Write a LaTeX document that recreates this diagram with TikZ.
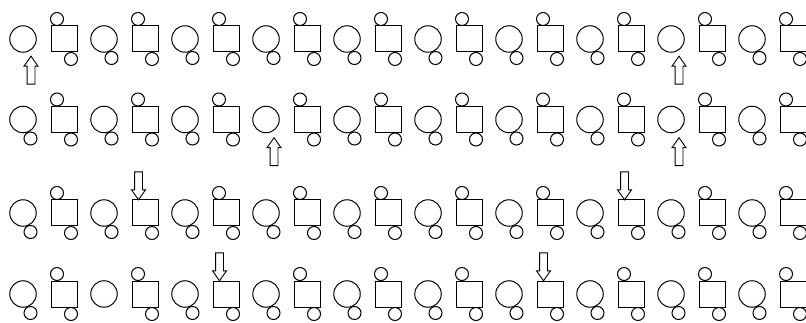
\documentclass[tikz,border=0pt]{standalone}
\usetikzlibrary{shapes.arrows}

\begin{document}
\begin{tikzpicture}[x=1pt, y=-1pt, line width=1pt,
  ring/.style={circle, draw, minimum size=26.5pt, inner sep=0pt},
  box/.style={rectangle, draw, minimum size=26pt, inner sep=0pt},
  bead/.style={circle, draw, minimum size=13pt, inner sep=0pt},
  blockarrow/.style={single arrow, draw, line width=0.9pt, inner sep=3.5pt, minimum height=28pt, single arrow head extend=3pt, single arrow tip angle=70},
  uparrow/.style={blockarrow, shape border rotate=90},
  downarrow/.style={blockarrow, shape border rotate=270},
]
\useasboundingbox (0,0) rectangle (806,323);
\clip (0,0) rectangle (806,323);

% rings, boxes and the bead under each box
\foreach \r/\y in {1/39, 2/119.5, 3/213, 4/294} {
  \foreach \k in {0,...,9} {
    \node[ring] (c\r\k) at ({23+81*\k}, \y) {};
    \node[box] (s\r\k) at ({64+81*\k}, \y) {};
    \node[bead] (sb\r\k) at ([shift={(7,20)}]s\r\k.center) {};
  }
}

% beads on the rings
\foreach \k in {1,...,7,9} \node[bead] (cb1\k) at ([shift={(7.5,19)}]c1\k.center) {};
\foreach \k in {0,1,2,4,5,6,7,9} \node[bead] (cb2\k) at ([shift={(7.5,19)}]c2\k.center) {};
\foreach \k in {0,...,9} \node[bead] (cb3\k) at ([shift={(7.5,19)}]c3\k.center) {};
\foreach \k in {0,2,3,...,9} \node[bead] (cb4\k) at ([shift={(7.5,19)}]c4\k.center) {};

% beads on top of the boxes
\foreach \k in {0,...,9} \node[bead] (st1\k) at ([shift={(-7,-20)}]s1\k.center) {};
\foreach \k in {0,...,9} \node[bead] (st2\k) at ([shift={(-7,-20)}]s2\k.center) {};
\foreach \k in {0,2,3,4,5,6,8,9} \node[bead] (st3\k) at ([shift={(-7,-20)}]s3\k.center) {};
\foreach \k in {0,1,3,4,5,7,8,9} \node[bead] (st4\k) at ([shift={(-7,-20)}]s4\k.center) {};

% arrows
\node[uparrow] (up1) at ([shift={(8,34)}]c10.center) {};
\node[uparrow] (up2) at ([shift={(8,34)}]c18.center) {};
\node[uparrow] (up3) at ([shift={(8,35)}]c23.center) {};
\node[uparrow] (up4) at ([shift={(8,35)}]c28.center) {};
\node[downarrow] (dn1) at ([shift={(-6.5,-30)}]s31.center) {};
\node[downarrow] (dn2) at ([shift={(-6.5,-30)}]s37.center) {};
\node[downarrow] (dn3) at ([shift={(-6.5,-30)}]s42.center) {};
\node[downarrow] (dn4) at ([shift={(-6.5,-30)}]s46.center) {};
\end{tikzpicture}
\end{document}
